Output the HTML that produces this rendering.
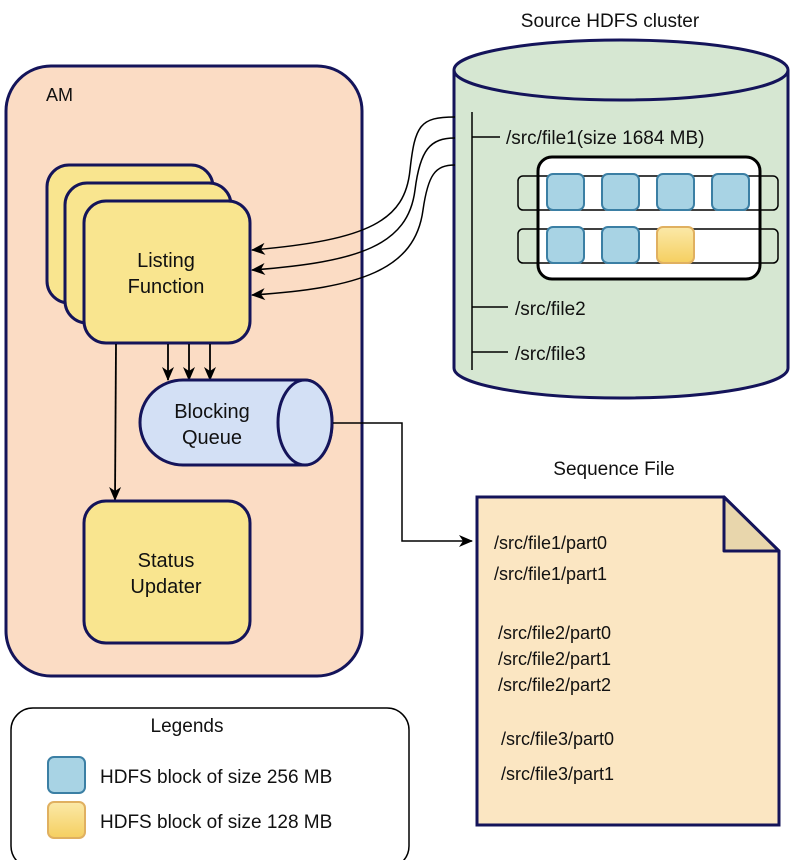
<!DOCTYPE html>
<html><head><meta charset="utf-8"><style>
body{margin:0;background:#fff}
svg text{font-family:"Liberation Sans",sans-serif;fill:#111}
</style></head><body>
<svg width="794" height="860" viewBox="0 0 794 860" xmlns="http://www.w3.org/2000/svg">
<defs>
<marker id="ah" markerWidth="14" markerHeight="14" refX="13" refY="7" orient="auto" markerUnits="userSpaceOnUse"><path d="M0,1 L14,7 L0,13 L4,7 Z" fill="#000"/></marker>
<linearGradient id="yb" x1="0" y1="0" x2="0" y2="1"><stop offset="0" stop-color="#fbe9a8"/><stop offset="1" stop-color="#f5cf60"/></linearGradient>
</defs>
<rect x="0" y="0" width="794" height="860" fill="#fff"/>
<rect x="6" y="66" width="356" height="610" rx="45" fill="#fbdcc4" stroke="#14145a" stroke-width="3"/>
<text x="46" y="101" font-size="18">AM</text>
<rect x="47" y="165" width="166" height="138" rx="22" fill="#f9e58f" stroke="#14145a" stroke-width="3"/>
<rect x="65" y="183" width="166" height="140" rx="22" fill="#f9e58f" stroke="#14145a" stroke-width="3"/>
<rect x="84" y="201" width="166" height="142" rx="22" fill="#f9e58f" stroke="#14145a" stroke-width="3"/>
<text x="166" y="267" font-size="20" text-anchor="middle">Listing</text>
<text x="166" y="293" font-size="20" text-anchor="middle">Function</text>
<g stroke="#000" stroke-width="1.8" marker-end="url(#ah)">
<line x1="168" y1="344" x2="168" y2="380"/>
<line x1="189" y1="344" x2="189" y2="380"/>
<line x1="210" y1="344" x2="210" y2="380"/>
<line x1="116" y1="344" x2="115" y2="500"/>
</g>
<path d="M183,380 L305,380 A27,42.5 0 0 1 305,465 L183,465 A43,42.5 0 0 1 183,380 Z" fill="#d3e0f5" stroke="#14145a" stroke-width="3"/>
<ellipse cx="305" cy="422.5" rx="27" ry="42.5" fill="#d3e0f5" stroke="#14145a" stroke-width="3"/>
<text x="212" y="418" font-size="20" text-anchor="middle">Blocking</text>
<text x="212" y="444" font-size="20" text-anchor="middle">Queue</text>
<rect x="84" y="501" width="166" height="142" rx="22" fill="#f9e58f" stroke="#14145a" stroke-width="3"/>
<text x="166" y="567" font-size="20" text-anchor="middle">Status</text>
<text x="166" y="593" font-size="20" text-anchor="middle">Updater</text>
<text x="610" y="27" font-size="19" text-anchor="middle">Source HDFS cluster</text>
<path d="M454,70 L454,368 A167,30 0 0 0 788,368 L788,70" fill="#d6e7d2" stroke="#14145a" stroke-width="3"/>
<ellipse cx="621" cy="70" rx="167" ry="30" fill="#d6e7d2" stroke="#14145a" stroke-width="3"/>
<g stroke="#000" stroke-width="1.5" fill="none">
<line x1="472" y1="112" x2="472" y2="370"/>
<line x1="472" y1="137" x2="500" y2="137"/>
<line x1="472" y1="307" x2="508" y2="307"/>
<line x1="472" y1="352" x2="508" y2="352"/>
</g>
<text x="506" y="144" font-size="19">/src/file1(size 1684 MB)</text>
<text x="515" y="315" font-size="19">/src/file2</text>
<text x="515" y="360" font-size="19">/src/file3</text>
<rect x="538" y="157" width="222" height="122" rx="14" fill="#fff" stroke="#000" stroke-width="3"/>
<rect x="518" y="176" width="260" height="34" rx="5" fill="none" stroke="#000" stroke-width="1.5"/>
<rect x="518" y="229" width="260" height="34" rx="5" fill="none" stroke="#000" stroke-width="1.5"/>
<g fill="#a8d3e4" stroke="#3b7fa4" stroke-width="2">
<rect x="547" y="174" width="37" height="36" rx="6"/>
<rect x="602" y="174" width="37" height="36" rx="6"/>
<rect x="657" y="174" width="37" height="36" rx="6"/>
<rect x="712" y="174" width="37" height="36" rx="6"/>
<rect x="547" y="227" width="37" height="36" rx="6"/>
<rect x="602" y="227" width="37" height="36" rx="6"/>
</g>
<rect x="657" y="227" width="37" height="36" rx="6" fill="url(#yb)" stroke="#e0b060" stroke-width="2"/>
<g stroke="#000" stroke-width="1.5" fill="none" marker-end="url(#ah)">
<path d="M455,117 C420,117 415,125 410,170 C405,220 370,240 252,250"/>
<path d="M455,138 C430,138 420,150 415,190 C408,245 360,262 252,270"/>
<path d="M455,165 C435,165 428,175 423,210 C415,270 360,288 252,295"/>
<path d="M333,423 L402,423 L402,541 L472,541"/>
</g>
<text x="614" y="475" font-size="19" text-anchor="middle">Sequence File</text>
<path d="M477,497 L724,497 L779,551 L779,825 L477,825 Z" fill="#fbe6c2" stroke="#14145a" stroke-width="3"/>
<path d="M724,497 L724,551 L779,551 Z" fill="#e8d6ac" stroke="#14145a" stroke-width="3" stroke-linejoin="round"/>
<g font-size="18">
<text x="494" y="549">/src/file1/part0</text>
<text x="494" y="580">/src/file1/part1</text>
<text x="498" y="639">/src/file2/part0</text>
<text x="498" y="665">/src/file2/part1</text>
<text x="498" y="691">/src/file2/part2</text>
<text x="501" y="745">/src/file3/part0</text>
<text x="501" y="780">/src/file3/part1</text>
</g>
<rect x="11" y="708" width="398" height="160" rx="22" fill="#fff" stroke="#000" stroke-width="1.5"/>
<text x="187" y="732" font-size="19" text-anchor="middle">Legends</text>
<rect x="48" y="757" width="37" height="36" rx="6" fill="#a8d3e4" stroke="#3b7fa4" stroke-width="2"/>
<rect x="48" y="802" width="37" height="36" rx="6" fill="url(#yb)" stroke="#e0b060" stroke-width="2"/>
<text x="100" y="783" font-size="19">HDFS block of size 256 MB</text>
<text x="100" y="828" font-size="19">HDFS block of size 128 MB</text>
</svg>
</body></html>
